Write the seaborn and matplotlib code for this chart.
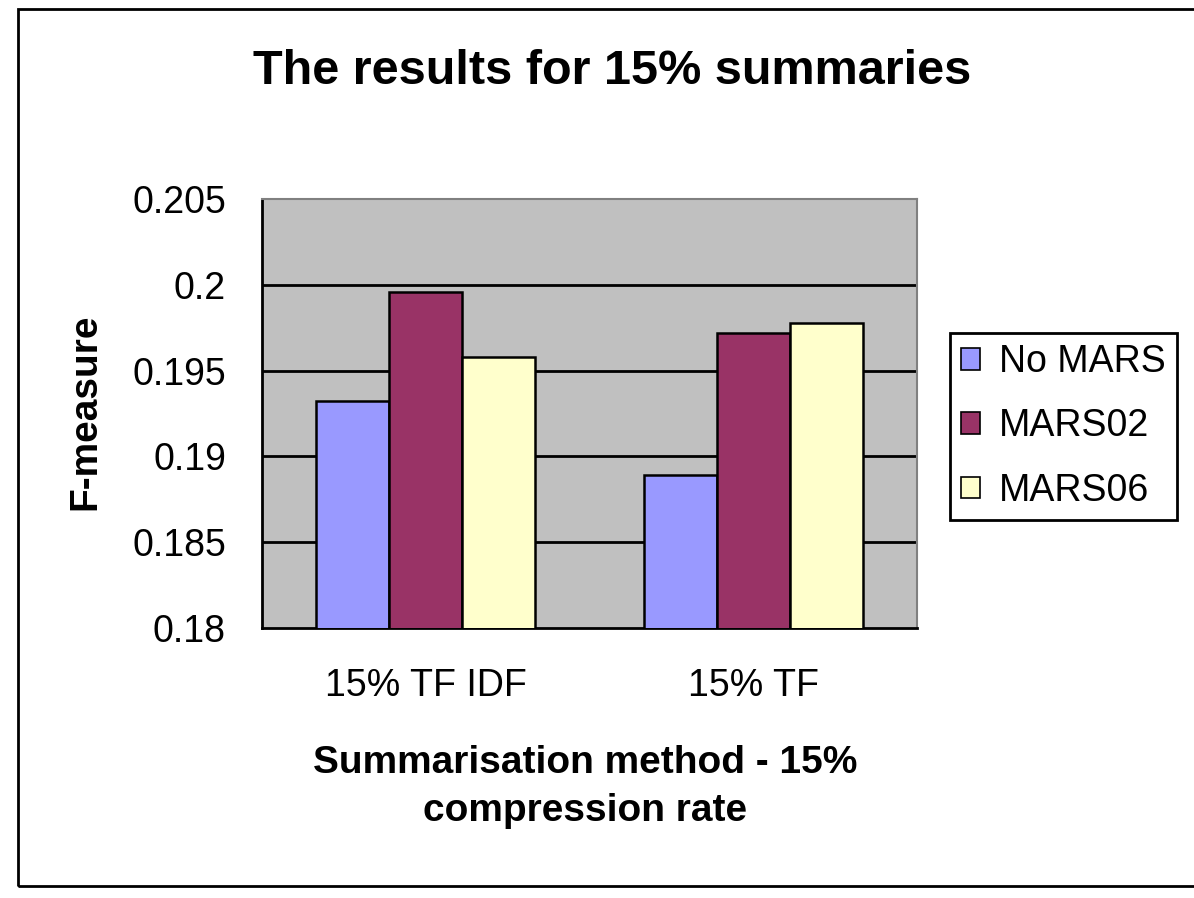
import matplotlib
matplotlib.use("Agg")
import matplotlib.pyplot as plt
from matplotlib.patches import Rectangle
import seaborn as sns
import pandas as pd

# Data
methods = ["15% TF IDF", "15% TF"]
series = ["No MARS", "MARS02", "MARS06"]
no_mars = [0.1932, 0.1889]
mars02 = [0.1996, 0.1972]
mars06 = [0.1958, 0.1978]
y_ticks = [0.18, 0.185, 0.19, 0.195, 0.2, 0.205]
y_tick_labels = ["0.18", "0.185", "0.19", "0.195", "0.2", "0.205"]

colors = ["#9999FF", "#993366", "#FFFFCC"]

rows = []
for s, vals in zip(series, [no_mars, mars02, mars06]):
    for m, v in zip(methods, vals):
        rows.append({"method": m, "series": s, "value": v})
df = pd.DataFrame(rows)

sns.set_theme(style="white")
plt.rcParams["font.family"] = ["Liberation Sans", "DejaVu Sans"]
plt.rcParams["text.color"] = "black"
plt.rcParams["axes.labelcolor"] = "black"
plt.rcParams["xtick.color"] = "black"
plt.rcParams["ytick.color"] = "black"

fig = plt.figure(figsize=(11.94, 8.98), dpi=100)
ax = fig.add_axes([262 / 1194, 1 - 628 / 898, (917 - 262) / 1194, (628 - 199) / 898])
ax.set_facecolor("#C0C0C0")

sns.barplot(data=df, x="method", y="value", hue="series", order=methods,
            hue_order=series, palette=colors, width=0.67, edgecolor="black",
            linewidth=1.8, saturation=1, ax=ax, legend=True, zorder=3)

ax.set_ylim(0.18, 0.205)
ax.set_xlim(-0.5, 1.5)
ax.set_yticks(y_ticks)
ax.set_yticklabels(y_tick_labels)
for yv in y_ticks[1:-1]:
    ax.axhline(yv, color="black", lw=2, zorder=1)

ax.tick_params(axis="y", which="major", direction="inout", length=14, width=1.8,
               labelsize=27, pad=19, color="black")
ax.tick_params(axis="x", which="major", length=0, labelsize=27, pad=29)
ax.set_xticks([-0.5, 0.5, 1.5], minor=True)
ax.tick_params(axis="x", which="minor", direction="out", length=12, width=1.8, color="black")

for side in ["top", "right"]:
    ax.spines[side].set_color("#808080")
    ax.spines[side].set_linewidth(1.5)
for side in ["left", "bottom"]:
    ax.spines[side].set_color("black")
    ax.spines[side].set_linewidth(2)

ax.set_xlabel("Summarisation method - 15%\ncompression rate", fontsize=28,
              fontweight="bold", linespacing=1.45)
ax.xaxis.set_label_coords(0.493, -0.272)
ax.set_ylabel("F-measure", fontsize=28, fontweight="bold")
ax.yaxis.set_label_coords(-0.27, 0.505)
ax.yaxis.label.set_va("center")

handles, labels = ax.get_legend_handles_labels()
ax.get_legend().remove()
leg = fig.legend(handles, labels, loc="upper left",
                 bbox_to_anchor=(950 / 1194, 1 - 333 / 898), fontsize=27,
                 frameon=True, fancybox=False, framealpha=1, edgecolor="black",
                 handlelength=0.5, handleheight=0.5, handletextpad=0.5,
                 labelspacing=0.75, borderpad=0.3, borderaxespad=0)
leg.get_frame().set_linewidth(2)
for h in leg.legend_handles:
    h.set_linewidth(1.2)

fig.text(612 / 1194, 1 - 72 / 898, "The results for 15% summaries", ha="center",
         va="center", fontsize=35, fontweight="bold")

fig.patches.append(Rectangle((18 / 1194, 1 - 886 / 898), 1.2, (886 - 9) / 898,
                             transform=fig.transFigure, fill=False,
                             edgecolor="black", linewidth=2))

fig.savefig("out.png", dpi=100)
